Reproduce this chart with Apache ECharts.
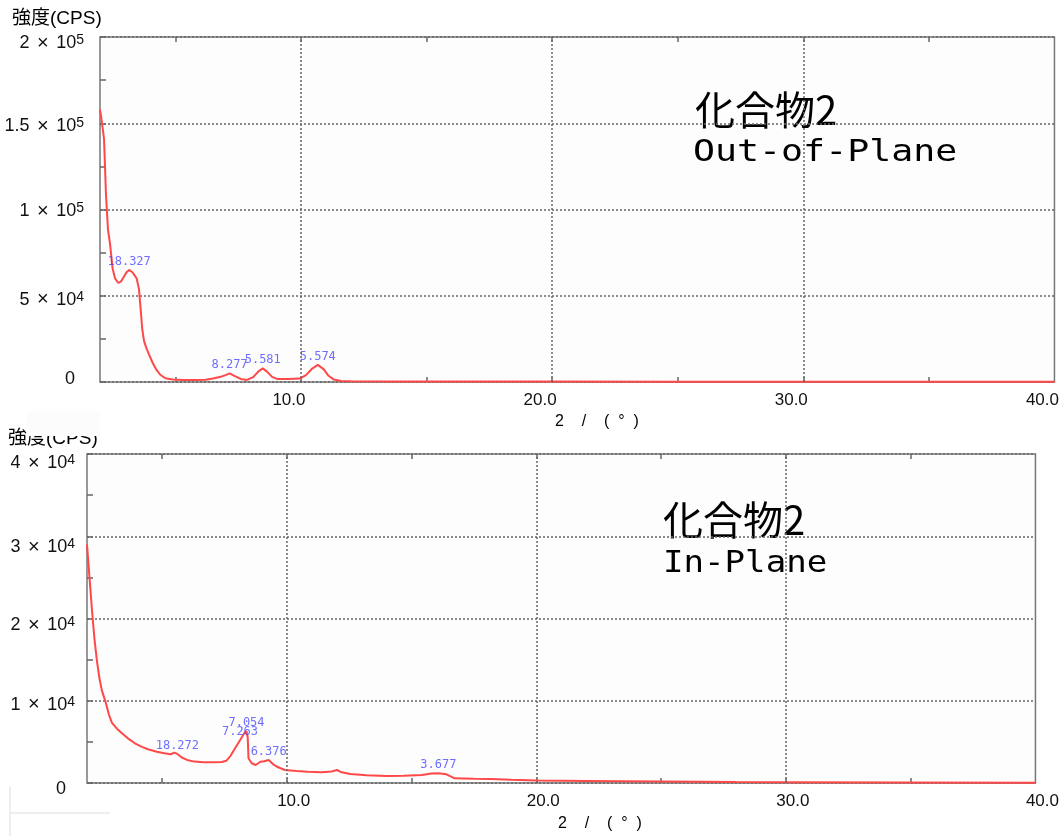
<!DOCTYPE html>
<html>
<head>
<meta charset="utf-8">
<title>化合物2</title>
<script src="https://cdn.jsdelivr.net/npm/echarts@6/dist/echarts.min.js"></script>
<style>
html, body { margin: 0; padding: 0; background: #fff; }
#chart { width: 1062px; height: 838px; }
</style>
</head>
<body>
<div id="chart"></div>
<script>
// Out-of-Plane scan (2θ, CPS)
const topX = [2.0, 2.08, 2.16, 2.24, 2.32, 2.4, 2.5, 2.6, 2.73, 2.85, 2.95, 3.05, 3.16, 3.3, 3.46, 3.55, 3.62, 3.68, 3.75, 3.85, 3.95, 4.1, 4.25, 4.4, 4.6, 4.9, 5.3, 5.8, 6.2, 6.5, 6.8, 7.0, 7.16, 7.35, 7.6, 7.85, 8.1, 8.3, 8.48, 8.65, 8.85, 9.05, 9.5, 9.95, 10.2, 10.45, 10.67, 10.9, 11.1, 11.3, 11.6, 12.0, 14, 17, 20, 25, 30, 35, 40];
const topY = [158000, 150000, 141000, 108000, 88000, 80000, 66000, 60000, 57400, 58500, 61000, 63500, 65000, 63500, 60000, 54000, 42000, 31000, 24000, 19500, 16000, 11000, 7000, 4200, 2200, 1400, 1200, 1100, 1300, 2000, 3000, 4000, 5000, 3600, 1800, 1200, 2800, 6000, 7900, 6000, 3000, 1800, 1700, 2000, 4000, 7800, 9900, 7500, 3600, 1500, 600, 400, 350, 300, 250, 200, 150, 120, 100];
const topPeakX = [3.16, 7.16, 8.48, 10.67];
const topPeakY = [65000, 5000, 7900, 9900];
const topPeakText = ['18.327', '8.277', '5.581', '5.574'];

// In-Plane scan
const botX = [2.0, 2.1, 2.2, 2.3, 2.4, 2.5, 2.6, 2.75, 2.88, 3.0, 3.2, 3.4, 3.65, 3.92, 4.2, 4.44, 4.8, 5.1, 5.35, 5.5, 5.62, 5.8, 6.01, 6.3, 6.67, 7.1, 7.4, 7.58, 7.75, 7.97, 8.13, 8.3, 8.39, 8.44, 8.47, 8.6, 8.76, 8.95, 9.1, 9.28, 9.45, 9.61, 9.93, 10.4, 10.85, 11.4, 11.8, 12.02, 12.2, 12.55, 13.2, 13.98, 14.7, 15.42, 15.8, 16.08, 16.4, 16.73, 17.5, 18.17, 19, 20, 22, 25, 28, 30, 35, 40];
const botY = [29000, 25000, 21000, 17500, 14800, 12700, 11200, 9800, 8300, 7300, 6600, 6040, 5400, 4830, 4400, 4100, 3800, 3610, 3500, 3700, 3530, 3100, 2800, 2600, 2520, 2520, 2550, 2700, 3300, 4410, 5200, 6040, 6300, 5500, 3000, 2400, 2190, 2590, 2650, 2800, 2300, 1980, 1580, 1450, 1370, 1320, 1400, 1580, 1300, 1090, 950, 850, 880, 970, 1150, 1180, 1050, 570, 520, 490, 400, 300, 250, 180, 120, 100, 60, 40];
const botPeakX = [5.62, 8.13, 8.39, 9.28, 16.08];
const botPeakY = [3530, 5200, 6300, 2800, 1180];
const botPeakText = ['18.272', '7.263', '7.054', '6.376', '3.677'];

// axes
const xLabelValues = [10, 20, 30, 40];
const xTickValues = [5, 10, 15, 20, 25, 30, 35];
const xGridValues = [10, 20, 30];
const topYMant = ['0', '5', '1', '1.5', '2'];
const topYExp = ['', '4', '5', '5', '5'];
const botYMant = ['0', '1', '2', '3', '4'];
const botYExp = ['', '4', '4', '4', '4'];

const FONT = '"Liberation Sans", Arial, sans-serif';
const CJK = '"Liberation Sans", "Noto Sans CJK JP", sans-serif';

function pairs(xs, ys) {
    return xs.map((x, i) => [x, ys[i]]);
}
function peaks(xs, ys, txt) {
    return xs.map((x, i) => [x, ys[i], txt[i]]);
}

function xAxisFor(grid, position, labelShift) {
    return {
        type: 'value',
        gridIndex: grid,
        position: position,
        min: 2,
        max: 40,
        axisLine: { show: false },
        axisTick: {
            show: true, inside: true, length: 5,
            customValues: xTickValues,
            lineStyle: { color: '#666', width: 1.5 }
        },
        axisLabel: {
            show: position === 'bottom',
            customValues: xLabelValues,
            formatter: v => v.toFixed(1),
            color: '#111',
            fontSize: 17,
            fontFamily: FONT,
            margin: 10,
            padding: labelShift < 0 ? [0, -2 * labelShift, 0, 0] : [0, 0, 0, 2 * labelShift]
        },
        splitLine: { show: false }
    };
}

// shift: vertical offset of each tick label in px (down is positive), the scanned picture is not aligned
function yAxisFor(grid, max, step, mant, exp, margin, shift) {
    let rich = {};
    shift.forEach(function (d, i) {
        let pt = d > 0 ? 2 * d : 0, pb = d < 0 ? -2 * d : 0;
        rich['m' + i] = { fontSize: 18, fontFamily: FONT, color: '#111', padding: [pt, 0, pb, 0] };
        rich['x' + i] = { fontSize: 20, fontFamily: FONT, color: '#111', padding: [pt, 2, pb, 2] };
        rich['s' + i] = { fontSize: 14, fontFamily: FONT, color: '#111', verticalAlign: 'top', padding: [pt, 0, pb, 0] };
        rich['z' + i] = { fontSize: 18, fontFamily: FONT, color: '#111', padding: [pt, 9, pb, 0] };
    });
    return {
        type: 'value',
        gridIndex: grid,
        min: 0,
        max: max,
        interval: step,
        axisLine: { show: false },
        axisTick: { show: true, inside: true, length: 6, lineStyle: { color: '#666', width: 1.5 } },
        minorTick: { show: true, splitNumber: 2, length: 6, lineStyle: { color: '#666', width: 1.5 } },
        splitLine: { show: true, lineStyle: { color: '#666', width: 1.5, type: [2, 2] } },
        axisLabel: {
            margin: margin,
            showMaxLabel: true,
            showMinLabel: true,
            hideOverlap: false,
            formatter: function (v) {
                let i = Math.round(v / step);
                if (!exp[i]) return '{z' + i + '|' + mant[i] + '}';
                return '{m' + i + '|' + mant[i] + '}{x' + i + '| × }{m' + i + '|10}{s' + i + '|' + exp[i] + '}';
            },
            rich: rich
        }
    };
}

const gridLineMarks = {
    silent: true,
    symbol: ['none', 'none'],
    label: { show: false },
    lineStyle: { color: '#666', width: 1.5, type: [2, 2] },
    data: xGridValues.map(v => ({ xAxis: v }))
};

function peakSeries(xIdx, yIdx, data) {
    return {
        type: 'scatter',
        xAxisIndex: xIdx,
        yAxisIndex: yIdx,
        symbolSize: 1,
        itemStyle: { color: 'rgba(0,0,0,0)' },
        label: {
            show: true,
            position: 'top',
            distance: 2,
            formatter: p => p.value[2],
            color: '#4a4aff',
            fontSize: 12,
            fontFamily: '"DejaVu Sans Mono", monospace'
        },
        data: data,
        z: 5
    };
}

function txt(x, y, text, font, extra) {
    return Object.assign({
        type: 'text', x: x, y: y, silent: true,
        style: { text: text, font: font, fill: '#000', align: 'left', verticalAlign: 'middle' }
    }, extra || {});
}

var chart = echarts.init(document.getElementById('chart'));

var option = {
    animation: false,
    backgroundColor: '#fff',
    grid: [
        { left: 100, top: 37, width: 956, height: 345, show: true, borderColor: '#777', borderWidth: 1.5, backgroundColor: '#fdfdfd' },
        { left: 87, top: 454, width: 967, height: 329, show: true, borderColor: '#777', borderWidth: 1.5, backgroundColor: '#fdfdfd' }
    ],
    xAxis: [
        xAxisFor(0, 'bottom', -12),
        xAxisFor(0, 'top', 0),
        xAxisFor(1, 'bottom', 7),
        xAxisFor(1, 'top', 0)
    ],
    yAxis: [
        yAxisFor(0, 200000, 50000, topYMant, topYExp, 16, [-3, 4, 2, 3, 6]),
        yAxisFor(1, 40000, 10000, botYMant, botYExp, 12, [6, 4, 7, 11, 9])
    ],
    series: [
        {
            type: 'line', xAxisIndex: 0, yAxisIndex: 0,
            showSymbol: false, symbol: 'none',
            lineStyle: { color: '#ff4848', width: 2 },
            data: pairs(topX, topY),
            markLine: gridLineMarks
        },
        peakSeries(0, 0, peaks(topPeakX, topPeakY, topPeakText)),
        {
            type: 'line', xAxisIndex: 2, yAxisIndex: 1,
            showSymbol: false, symbol: 'none',
            lineStyle: { color: '#ff4848', width: 2 },
            data: pairs(botX, botY),
            markLine: gridLineMarks
        },
        peakSeries(2, 1, peaks(botPeakX, botPeakY, botPeakText))
    ],
    graphic: [
        txt(12, 19, '強度(CPS)', '19px ' + CJK),
        txt(8, 439, '強度(CPS)', '19px ' + CJK),
        // 元画像の貼り合わせ跡
        { type: 'rect', shape: { x: 27, y: 411, width: 73, height: 25 }, style: { fill: '#fcfcfc' }, z: 100, silent: true },
        { type: 'polyline', shape: { points: [[10, 786], [10, 836]] }, style: { stroke: '#ddd', lineWidth: 1 }, silent: true },
        { type: 'polyline', shape: { points: [[10, 813], [110, 813]] }, style: { stroke: '#ddd', lineWidth: 1 }, silent: true },

        txt(555, 422, '2    /    (  °  )', '16px ' + FONT),
        txt(558, 824, '2    /    (  °  )', '16px ' + FONT),

        txt(695, 110, '化合物2', '40px "Noto Sans CJK JP"'),
        txt(693, 153, 'Out-of-Plane', '31px "DejaVu Sans Mono"', { scaleX: 1.18 }),
        txt(663, 520, '化合物2', '40px "Noto Sans CJK JP"'),
        txt(663, 564, 'In-Plane', '31px "DejaVu Sans Mono"', { scaleX: 1.1 })
    ]
};

option && chart.setOption(option);
</script>
</body>
</html>
